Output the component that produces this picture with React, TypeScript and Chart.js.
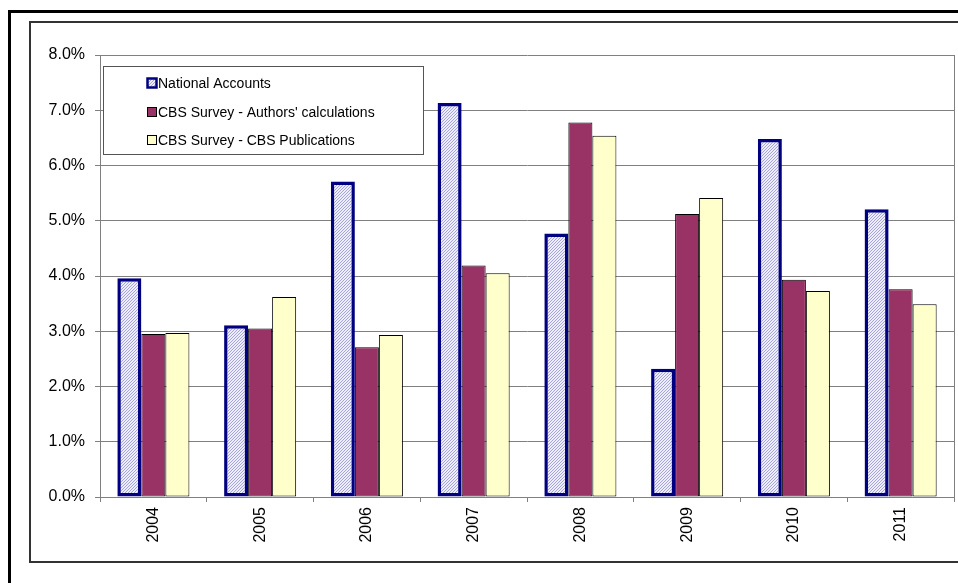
import { useEffect, useRef } from "react"
import { Chart, registerables } from "chart.js"

Chart.register(...registerables)

// Years on the x axis
const years = ["2004", "2005", "2006", "2007", "2008", "2009", "2010", "2011"]

// Series values, in percent
const nationalAccounts = [3.96, 3.11, 5.71, 7.13, 4.77, 2.32, 6.48, 5.21]
const cbsAuthors = [2.95, 3.05, 2.71, 4.19, 6.78, 5.12, 3.93, 3.76]
const cbsPublications = [2.97, 3.62, 2.93, 4.05, 6.54, 5.41, 3.73, 3.49]

const seriesLabels = [
  "National Accounts",
  "CBS Survey - Authors' calculations",
  "CBS Survey - CBS Publications",
]

const FONT = "'Liberation Sans', Arial, sans-serif"

function makeHatch(): CanvasPattern | string {
  const c = document.createElement("canvas")
  c.width = 3
  c.height = 3
  const g = c.getContext("2d")
  if (!g) return "#d0d0ee"
  g.fillStyle = "#eeeefa"
  g.fillRect(0, 0, 3, 3)
  g.fillStyle = "#a4a4da"
  // one pixel per row, stepping up to the right
  g.fillRect(0, 2, 1, 1)
  g.fillRect(1, 1, 1, 1)
  g.fillRect(2, 0, 1, 1)
  return g.createPattern(c, "repeat") || "#d0d0ee"
}

export default function App() {
  const chartRef = useRef<HTMLCanvasElement>(null)
  const chartInstance = useRef<Chart | null>(null)

  useEffect(() => {
    if (!chartRef.current) return
    if (chartInstance.current) chartInstance.current.destroy()
    const ctx = chartRef.current.getContext("2d")
    if (!ctx) return

    const hatch = makeHatch()

    // legend box inside the plot + right edge of the plot area
    const overlay = {
      id: "overlay",
      afterDraw(chart: Chart) {
        const { ctx: c, chartArea } = chart
        c.save()
        c.strokeStyle = "#808080"
        c.lineWidth = 1
        c.beginPath()
        c.moveTo(chartArea.right + 0.5, chartArea.top)
        c.lineTo(chartArea.right + 0.5, chartArea.bottom)
        c.stroke()

        const bx = chartArea.left + 3
        const by = chartArea.top + 11
        c.fillStyle = "#ffffff"
        c.fillRect(bx, by, 320, 88)
        c.strokeStyle = "#555555"
        c.strokeRect(bx + 0.5, by + 0.5, 320, 88)

        const rows = [17, 46, 74]
        const fills: (CanvasPattern | string)[] = [hatch, "#993366", "#ffffcc"]
        const borders = ["#000080", "#000000", "#000000"]
        c.font = `14px ${FONT}`
        c.textBaseline = "middle"
        rows.forEach((dy, i) => {
          const sy = by + dy - 5
          c.fillStyle = fills[i]
          c.fillRect(bx + 44, sy, 10, 10)
          c.strokeStyle = borders[i]
          c.lineWidth = i === 0 ? 2.5 : 1
          c.strokeRect(bx + 44.5, sy + 0.5, 9, 9)
          c.fillStyle = "#000000"
          c.fillText(seriesLabels[i], bx + 55, by + dy + 1)
        })
        c.restore()
      },
    }

    chartInstance.current = new Chart(ctx, {
      type: "bar",
      data: {
        labels: years,
        datasets: [
          {
            label: seriesLabels[0],
            data: nationalAccounts,
            backgroundColor: hatch as any,
            borderColor: "#000080",
            borderWidth: 3.5,
            borderSkipped: false,
          },
          {
            label: seriesLabels[1],
            data: cbsAuthors,
            backgroundColor: "#993366",
            borderColor: "#000000",
            borderWidth: 1,
            borderSkipped: false,
          },
          {
            label: seriesLabels[2],
            data: cbsPublications,
            backgroundColor: "#ffffcc",
            borderColor: "#000000",
            borderWidth: 1,
            borderSkipped: false,
          },
        ],
      },
      options: {
        responsive: false,
        animation: false,
        devicePixelRatio: 1,
        layout: {
          padding: { left: 0, right: 4, top: 55, bottom: 26 },
        },
        datasets: {
          bar: {
            categoryPercentage: 0.675,
            barPercentage: 1,
          },
        },
        plugins: {
          legend: { display: false },
          tooltip: { enabled: false },
        },
        scales: {
          x: {
            afterFit: (scale: any) => {
              scale.height = 60
            },
            grid: {
              offset: true,
              drawOnChartArea: false,
              drawTicks: true,
              tickLength: 5,
              color: "#808080",
            },
            border: { color: "#808080", width: 1 },
            ticks: {
              minRotation: 90,
              maxRotation: 90,
              padding: 5,
              color: "#000000",
              font: { family: FONT, size: 16 },
            },
          },
          y: {
            min: 0,
            max: 8,
            afterFit: (scale: any) => {
              scale.width = 100
            },
            grid: {
              color: "#808080",
              tickLength: 5,
            },
            border: { color: "#808080", width: 1 },
            ticks: {
              stepSize: 1,
              padding: 10,
              color: "#000000",
              font: { family: FONT, size: 16 },
              callback: (v: any) => Number(v).toFixed(1) + "%",
            },
          },
        },
      },
      plugins: [overlay],
    })

    return () => {
      if (chartInstance.current) {
        chartInstance.current.destroy()
        chartInstance.current = null
      }
    }
  }, [])

  return (
    <div style={{ position: "absolute", left: 0, top: 0, width: 958, height: 583, overflow: "hidden", background: "#fff" }}>
      <div
        style={{
          position: "absolute",
          left: 8,
          top: 10,
          width: 1000,
          height: 700,
          borderTop: "3px solid #000",
          borderLeft: "3px solid #000",
        }}
      />
      <div
        style={{
          position: "absolute",
          left: 29,
          top: 21,
          width: 1000,
          height: 538,
          border: "2px solid #333",
        }}
      />
      <canvas
        ref={chartRef}
        width={958}
        height={583}
        style={{ position: "absolute", left: 0, top: 0 }}
        aria-label="Growth rates chart"
      ></canvas>
    </div>
  )
}
